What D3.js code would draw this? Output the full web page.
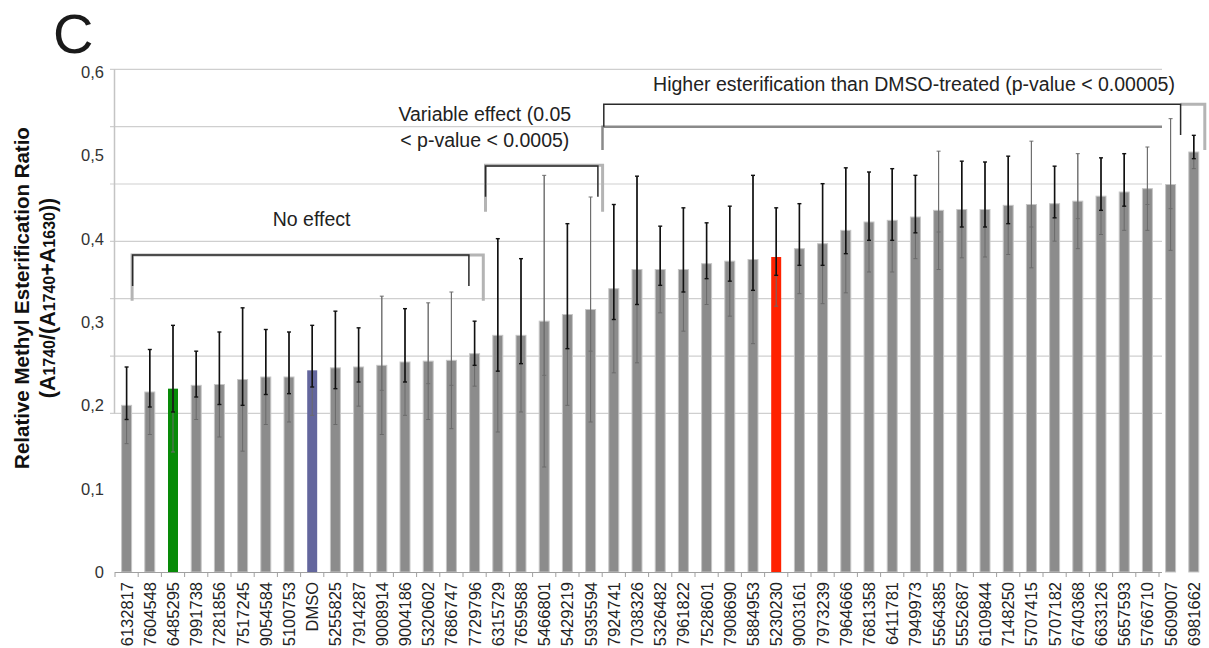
<!DOCTYPE html>
<html><head><meta charset="utf-8">
<script src="https://cdn.jsdelivr.net/npm/d3@7"></script>
<style>body{margin:0;background:#fff}svg{display:block}</style>
</head><body>
<svg id="c" width="1209" height="648"></svg>
<script>
// ---------- DATA ----------
const categories = ["6132817","7604548","6485295","7991738","7281856","7517245","9054584","5100753","DMSO","5255825","7914287","9008914","9004186","5320602","7686747","7729796","6315729","7659588","5466801","5429219","5935594","7924741","7038326","5326482","7961822","7528601","7908690","5884953","5230230","9003161","7973239","7964666","7681358","6411781","7949973","5564385","5552687","6109844","7148250","5707415","5707182","6740368","6633126","5657593","5766710","5609007","6981662"];
const values = [0.200,0.216,0.220,0.224,0.225,0.231,0.234,0.234,0.242,0.245,0.246,0.248,0.252,0.253,0.254,0.262,0.284,0.284,0.301,0.309,0.315,0.340,0.363,0.363,0.363,0.370,0.373,0.375,0.378,0.388,0.394,0.410,0.420,0.422,0.426,0.434,0.435,0.435,0.440,0.441,0.442,0.445,0.451,0.456,0.460,0.465,0.504];
// symmetric (grey) error
const errors = [0.046,0.051,0.076,0.041,0.063,0.086,0.057,0.054,0.054,0.068,0.047,0.083,0.064,0.070,0.082,0.039,0.116,0.092,0.175,0.109,0.135,0.101,0.112,0.052,0.074,0.049,0.066,0.101,0.059,0.054,0.072,0.075,0.060,0.062,0.050,0.071,0.058,0.057,0.059,0.076,0.045,0.057,0.046,0.046,0.050,0.079,0.020];
// lower end of the dark error segment (upper end = value + error)
const darkLow = [0.183,0.198,0.192,0.210,0.201,0.200,0.213,0.214,0.222,0.220,0.228,0.218,0.228,0.226,0.224,0.248,0.241,0.250,0.236,0.268,0.265,0.303,0.321,0.344,0.336,0.352,0.349,0.338,0.356,0.368,0.368,0.382,0.398,0.398,0.407,0.408,0.414,0.414,0.418,0.414,0.425,0.424,0.434,0.439,0.441,0.436,0.496];
const yTicks = [0,0.1,0.2,0.3,0.4,0.5,0.6];
const yTickLabels = ["0","0,1","0,2","0,3","0,4","0,5","0,6"];
const gridLevels = [0,1,2,3,4,5,6];
const groups = [
  {name:"noEffect", first:0, last:15, text:["No effect"]},
  {name:"variable", first:16, last:20, text:["Variable effect (0.05","< p-value < 0.0005)"]},
  {name:"higher", first:21, last:46, text:["Higher esterification than DMSO-treated (p-value < 0.00005)"]}
];

// ---------- STYLE ----------
const special = {"6485295":"#078a07","DMSO":"#63669d","5230230":"#ff2200"};
const faint = new Set([11,13,14,18,20,35,39,41,44,45]);
const FONT = "'Liberation Sans', Arial, Helvetica, sans-serif";

const svg = d3.select("#c");
const y = d3.scaleLinear().domain([0,0.6]).range([572,72]);
const x = d3.scaleBand().domain(categories).range([115, 115 + categories.length*23.2]).paddingInner(0.57).paddingOuter(0.285);
const cx = i => x(categories[i]) + x.bandwidth()/2;
const axisEnd = 115 + 45*x.step() + 3;
const gy = d3.scaleLinear().domain([0,6]).range([413.4, 69.3]);

// gridlines (overlay axis)
svg.append("g").selectAll("line").data(gridLevels).join("line")
  .attr("x1",110).attr("x2",axisEnd).attr("y1",d=>gy(d)).attr("y2",d=>gy(d))
  .attr("stroke","#cfcfcf").attr("stroke-width",1.2);
svg.append("line").attr("x1",114.5).attr("x2",114.5).attr("y1",gy(6)).attr("y2",gy(0))
  .attr("stroke","#c4c4c4").attr("stroke-width",1.5);

// bars
const bars = svg.append("g");
bars.selectAll("rect").data(categories).join("rect")
  .attr("x",d=>x(d)).attr("width",x.bandwidth())
  .attr("y",(d,i)=>y(values[i])).attr("height",(d,i)=>y(0)-y(values[i]))
  .attr("fill",d=>special[d]||"#8c8c8c")
  .attr("stroke",d=>special[d]?"none":"#c6c6c6").attr("stroke-width",1);

// x axis
svg.append("line").attr("x1",115).attr("x2",axisEnd).attr("y1",572.5).attr("y2",572.5).attr("stroke","#a0a0a0").attr("stroke-width",1.2);
svg.append("g").selectAll("line").data(d3.range(46)).join("line")
  .attr("x1",i=>115+i*x.step()).attr("x2",i=>115+i*x.step()).attr("y1",572).attr("y2",577)
  .attr("stroke","#a0a0a0");
svg.append("g").selectAll("text").data(categories).join("text")
  .attr("transform",d=>`translate(${x(d)+x.bandwidth()/2+6},582) rotate(-90)`)
  .attr("text-anchor","end").attr("font-family",FONT).attr("font-size",16.5).attr("fill","#222")
  .text(d=>d);

// error bars
const eg = svg.append("g");
categories.forEach((c,i)=>{
  const X = cx(i), hi = values[i]+errors[i], lo = values[i]-errors[i];
  const cap = 2;
  eg.append("line").attr("x1",X).attr("x2",X).attr("y1",y(hi)).attr("y2",y(lo)).attr("stroke","#6a6a6a").attr("stroke-width",1);
  eg.append("line").attr("x1",X-cap).attr("x2",X+cap).attr("y1",y(lo)).attr("y2",y(lo)).attr("stroke","#6a6a6a").attr("stroke-width",1);
  const f = faint.has(i);
  const col = f ? "#6e6e6e" : "#111", w = f ? 1 : 1.6;
  eg.append("line").attr("x1",X).attr("x2",X).attr("y1",y(hi)).attr("y2",y(darkLow[i])).attr("stroke",col).attr("stroke-width",w);
  [hi, darkLow[i]].forEach(v=>eg.append("line").attr("x1",X-cap).attr("x2",X+cap).attr("y1",y(v)).attr("y2",y(v)).attr("stroke",col).attr("stroke-width",f?1:1.4));
});

// y axis labels
svg.append("g").selectAll("text").data(yTicks).join("text")
  .attr("x",104).attr("y",d=>y(d)+6).attr("text-anchor","end")
  .attr("font-family",FONT).attr("font-size",16.5).attr("fill","#333")
  .text((d,i)=>yTickLabels[i]);

// y title
const yt = svg.append("g").attr("transform","translate(0,298) rotate(-90)");
yt.append("text").attr("x",0).attr("y",29).attr("text-anchor","middle")
  .attr("font-family",FONT).attr("font-weight","bold").attr("font-size",20.5).attr("fill","#111")
  .text("Relative Methyl Esterification Ratio");
const t2 = yt.append("text").attr("x",0).attr("y",55).attr("text-anchor","middle")
  .attr("font-family",FONT).attr("font-weight","bold").attr("font-size",21.5).attr("fill","#111");
[["(A",0],["1740",1],["/(A",0],["1740",1],["+A",0],["1630",1],["))",0]].forEach(([t,s])=>{
  t2.append("tspan").attr("font-size",s?16:21.5).text(t);
});

// panel letter
svg.append("text").attr("x",53).attr("y",53).attr("font-family",FONT).attr("font-size",56).attr("fill","#1a1a1a").text("C");

// brackets
const grey = "#b4b4b4", dark = "#2a2a2a";
function pl(pts, col, w){ svg.append("path").attr("d",d3.line()(pts)).attr("fill","none").attr("stroke",col).attr("stroke-width",w); }
// No effect
{
  const g = groups[0];
  const a = cx(g.first), b = cx(g.last);
  pl([[a+5.5,300.7],[a+5.5,255],[b+8.7,255],[b+8.7,300.7]], grey, 3);
  pl([[a+6,286],[a+6,255],[b-5.7,255],[b-5.7,286]], dark, 1.5);
  svg.append("text").attr("x",(a+b)/2+11).attr("y",226).attr("text-anchor","middle").attr("font-family",FONT).attr("font-size",19.5).attr("fill","#222").text(g.text[0]);
}
// Variable
{
  const g = groups[1];
  const a = cx(g.first), b = cx(g.last);
  pl([[a-12.3,211.7],[a-12.3,165.3],[b+12,165.3],[b+12,211.7]], grey, 3);
  pl([[a-12.3,196.7],[a-12.3,166],[b+7.3,166],[b+7.3,196.7]], dark, 1.5);
  g.text.forEach((t,k)=>svg.append("text").attr("x",a-13).attr("y",121+k*25.5).attr("text-anchor","middle").attr("font-family",FONT).attr("font-size",19.5).attr("fill","#222").text(t));
}
// Higher
{
  const g = groups[2];
  const a = cx(g.first), b = cx(g.last), bl = cx(g.last-1);
  pl([[a-11.3,150],[a-11.3,126.7],[axisEnd,126.7]], "#8a8a8a", 2.5);
  pl([[bl+10,104.3],[b+11,104.3],[b+11,150]], grey, 3);
  pl([[a-10,126.7],[a-10,104.3],[bl+10,104.3],[bl+10,135]], dark, 1.5);
  svg.append("text").attr("x",914).attr("y",90.5).attr("text-anchor","middle").attr("font-family",FONT).attr("font-size",19.5).attr("fill","#222").text(g.text[0]);
}
</script>
</body></html>
